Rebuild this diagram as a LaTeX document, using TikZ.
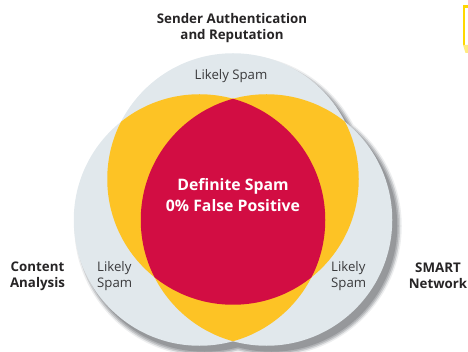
\documentclass[tikz,border=0pt]{standalone}
\usepackage{fontspec}
\setmainfont{Open Sans}
\definecolor{circgray}{HTML}{E1E8EC}
\definecolor{ylw}{HTML}{FDC325}
\definecolor{crim}{HTML}{D20D43}
\definecolor{txt}{HTML}{262425}
\definecolor{ltxt}{HTML}{3A3A3C}
\definecolor{sha}{HTML}{EDEEEF}
\definecolor{shb}{HTML}{CDCFD1}
\definecolor{shc}{HTML}{B0B2B5}
\definecolor{shd}{HTML}{96989B}
\definecolor{brightyellow}{HTML}{FFD800}
\definecolor{paleyellow}{HTML}{FFEB80}
\tikzset{
  heading/.style={font=\fontsize{13.3}{16}\selectfont\bfseries, text=txt, align=center, inner sep=0pt},
  inlabel/.style={font=\fontsize{13.2}{16}\selectfont, text=ltxt, align=left, inner sep=0pt},
  centerlabel/.style={font=\fontsize{15.8}{21}\selectfont\bfseries, text=white, align=center, inner sep=0pt}
}
\begin{document}
\begin{tikzpicture}[x=1pt,y=-1pt]
\useasboundingbox (0,0) rectangle (468,352);
\def\R{125.75pt}
\coordinate (T) at (233,179);
\coordinate (L) at (199.5,220);
\coordinate (Rc) at (266.5,220);
% shadow
\foreach \dr/\c in {4.5pt/sha,3pt/shb,1.5pt/shc,0pt/shd}{
  \foreach \p in {T,L,Rc}{
    \fill[\c] ([shift={(5,6)}]\p) circle[radius=\R+\dr];
  }
}
% circles
\foreach \p in {T,L,Rc}{ \fill[circgray] (\p) circle[radius=\R]; }
% yellow pairwise
\begin{scope}
  \clip (T) circle[radius=\R];
  \fill[ylw] (L) circle[radius=\R];
  \fill[ylw] (Rc) circle[radius=\R];
\end{scope}
\begin{scope}
  \clip (L) circle[radius=\R];
  \fill[ylw] (Rc) circle[radius=\R];
\end{scope}
% red triple
\begin{scope}
  \clip (T) circle[radius=\R];
  \clip (L) circle[radius=\R];
  \fill[crim] (Rc) circle[radius=\R];
\end{scope}
% yellow fragment top right
\fill[brightyellow] (463,5) rectangle (468,8.3);
\fill[brightyellow] (463,5) rectangle (465.3,45);
\fill[paleyellow] (463,45) -- (468,45) -- (468,53) -- (465.5,53) -- cycle;
% texts
\node[heading] (sender) at (232,28) {Sender Authentication\\and Reputation};
\node[heading] (content) at (37.5,276) {Content\\Analysis};
\node[heading] (smart) at (438,276) {SMART\\Network};
\node[inlabel, align=center] (lstop) at (231,76) {Likely Spam};
\node[inlabel, anchor=west] (lsleft) at (97,276) {Likely\\Spam};
\node[inlabel, anchor=west] (lsright) at (331,276) {Likely\\Spam};
\node[centerlabel] (definite) at (233,195.5) {Definite Spam\\0\% False Positive};
\end{tikzpicture}
\end{document}
